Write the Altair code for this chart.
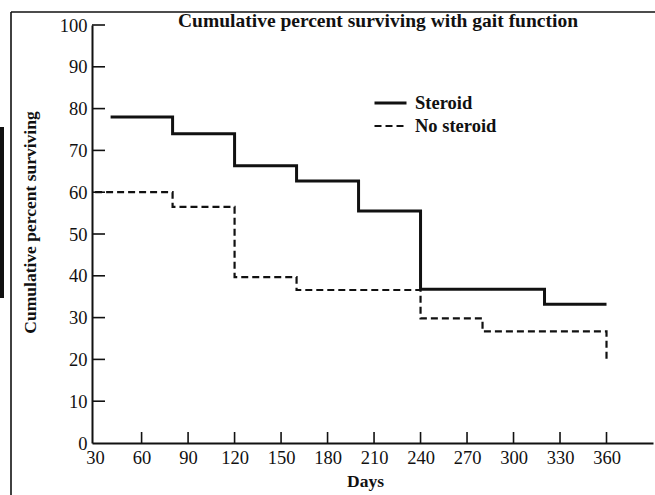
import altair as alt
import pandas as pd

# Kaplan-Meier style step curves (day, cumulative percent surviving)
steroid_days = [40, 80, 120, 160, 200, 240, 320, 360]
steroid_pct = [78, 74, 66.3, 62.7, 55.5, 36.8, 33.2, 33.2]

no_steroid_days = [30, 80, 120, 160, 240, 280, 360]
no_steroid_pct = [60, 56.5, 39.7, 36.6, 29.8, 26.7, 20]

groups = ["Steroid", "No steroid"]

x_tick_values = [30, 60, 90, 120, 150, 180, 210, 240, 270, 300, 330, 360]
y_tick_values = [0, 10, 20, 30, 40, 50, 60, 70, 80, 90, 100]

title_text = "Cumulative percent surviving with gait function"
x_title = "Days"
y_title = "Cumulative percent surviving"

FONT = "Liberation Serif"
INK = "#111111"
W, H = 561, 418

curves = pd.concat([
    pd.DataFrame({"day": steroid_days, "pct": steroid_pct, "group": groups[0]}),
    pd.DataFrame({"day": no_steroid_days, "pct": no_steroid_pct, "group": groups[1]}),
])

x_scale = alt.Scale(domain=[28, 390], nice=False, zero=False)
y_scale = alt.Scale(domain=[0, 100], nice=False)

x_axis = alt.Axis(
    values=x_tick_values, ticks=False, grid=False,
    domainColor=INK, domainWidth=2,
    labelFont=FONT, labelFontSize=18.5, labelColor=INK, labelPadding=5,
    title=x_title, titleFont=FONT, titleFontSize=17.5, titleFontWeight="bold",
    titleColor=INK, titleX=273, titleY=38, titleBaseline="middle",
)
y_axis = alt.Axis(
    values=y_tick_values, ticks=False, grid=False,
    domainColor=INK, domainWidth=2,
    labelFont=FONT, labelFontSize=18.5, labelColor=INK, labelPadding=5,
    title=y_title, titleFont=FONT, titleFontSize=17.5, titleFontWeight="bold",
    titleColor=INK, titleX=-62, titleY=197, titleAlign="center",
    titleBaseline="middle", titleAngle=270,
)

# stroke symbols would reserve a square of their length; clip rows to a tight height
legend = alt.Legend(
    title=None, orient="none", legendX=281, legendY=67,
    symbolType="stroke", symbolSize=1024, symbolStrokeColor=INK,
    symbolStrokeWidth=2.6, labelFont=FONT, labelFontSize=18.5,
    labelFontWeight="bold", labelColor=INK, labelOffset=7,
    clipHeight=22, rowPadding=1,
)

lines = alt.Chart(curves).mark_line(interpolate="step-after", color=INK).encode(
    x=alt.X("day:Q", scale=x_scale, axis=x_axis),
    y=alt.Y("pct:Q", scale=y_scale, axis=y_axis),
    strokeDash=alt.StrokeDash(
        "group:N", scale=alt.Scale(domain=groups, range=[[1, 0], [7, 4]]), legend=legend
    ),
    strokeWidth=alt.StrokeWidth(
        "group:N", scale=alt.Scale(domain=groups, range=[3, 2.2]), legend=None
    ),
    detail="group:N",
)

# inward-pointing tick marks on both axes
x_ticks = alt.Chart(pd.DataFrame({"day": x_tick_values[1:]})).mark_rule(
    color=INK, strokeWidth=1.6
).encode(
    x=alt.X("day:Q", scale=x_scale), y=alt.value(H), y2=alt.value(H - 11)
)
y_ticks = alt.Chart(pd.DataFrame({"pct": y_tick_values[1:]})).mark_rule(
    color=INK, strokeWidth=1.6
).encode(
    y=alt.Y("pct:Q", scale=y_scale), x=alt.value(0), x2=alt.value(13)
)

title_mark = alt.Chart(pd.DataFrame({"t": [title_text]})).mark_text(
    font=FONT, fontSize=19.5, fontWeight="bold", color=INK,
    align="center", baseline="alphabetic",
).encode(text="t:N", x=alt.value(286), y=alt.value(2))

# page frame and scan edge
one = pd.DataFrame({"k": [0]})
frame_top = alt.Chart(one).mark_rule(color=INK, strokeWidth=1.6).encode(
    x=alt.value(-81), x2=alt.value(565), y=alt.value(-13)
)
frame_left = alt.Chart(one).mark_rule(color=INK, strokeWidth=1.6).encode(
    x=alt.value(-81), y=alt.value(-13), y2=alt.value(472)
)
edge_bar = alt.Chart(one).mark_rect(color=INK).encode(
    x=alt.value(-92), x2=alt.value(-88), y=alt.value(102), y2=alt.value(273)
)

chart = alt.layer(
    frame_top, frame_left, edge_bar, lines, x_ticks, y_ticks, title_mark
).properties(
    width=W, height=H,
    autosize=alt.AutoSizeParams(type="none"),
    padding={"left": 92, "top": 25, "right": 2, "bottom": 52},
    background="white",
).configure_view(stroke=None)

chart.save("out.html", embed_options={"renderer": "svg", "actions": False})
